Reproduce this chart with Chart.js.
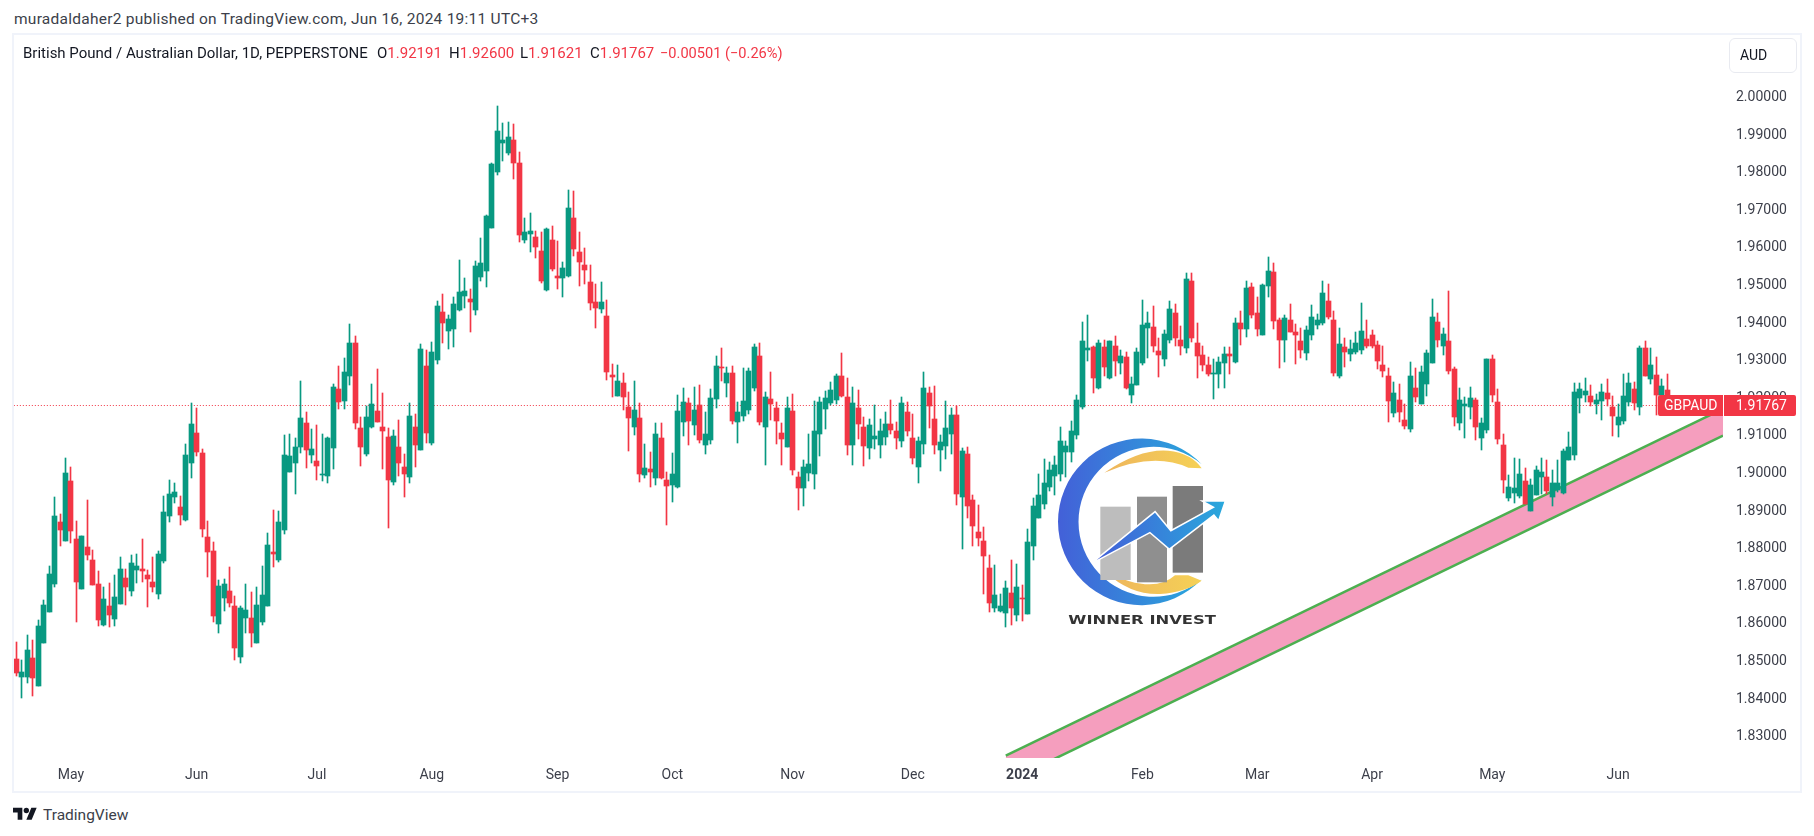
<!DOCTYPE html>
<html>
<head>
<meta charset="utf-8">
<title>GBPAUD</title>
<script src="https://cdn.jsdelivr.net/npm/chart.js@4"></script>
<style>
    html, body { margin: 0; padding: 0; background: #fff; }
    body { width: 1814px; height: 836px; position: relative; overflow: hidden; font-family: Roboto, sans-serif; color: #131722; }
    .abs { position: absolute; white-space: nowrap; }
    #frame { left: 12px; top: 33px; width: 1786px; height: 756px; border: 2px solid #f0f3fa; }
    #chartWrap { left: 14px; top: 35px; width: 1786px; height: 756px; }
    #published { left: 14px; top: 10px; font-size: 15.5px; letter-spacing: 0.25px; line-height: 18px; color: #3c3f4a; }
    .legend { top: 44px; font-size: 15px; line-height: 18px; color: #131722; }
    .red { color: #f23645; }
    #unit { left: 1729px; top: 38px; width: 66px; height: 33px; border: 1px solid #e8eaf0; border-radius: 6px; font-size: 14px; line-height: 33px; text-indent: 10px; }
    #logo { left: 1040px; top: 420px; }
    #tvLogo { left: 13px; top: 803px; }
    #tvText { left: 43px; top: 805px; font-size: 15.5px; line-height: 20px; color: #3c3f4a; }
</style>
</head>
<body>
<div class="abs" id="frame"></div>
<div class="abs" id="chartWrap"><canvas id="priceChart" width="1786" height="756"></canvas></div>

<div class="abs" id="published">muradaldaher2 published on TradingView.com, Jun 16, 2024 19:11 UTC+3</div>
<div class="abs legend" style="left:23px">British Pound / Australian Dollar, 1D, PEPPERSTONE</div>
<div class="abs legend" style="left:377px">O<span class="red">1.92191</span></div>
<div class="abs legend" style="left:449px">H<span class="red">1.92600</span></div>
<div class="abs legend" style="left:520px">L<span class="red">1.91621</span></div>
<div class="abs legend" style="left:590px">C<span class="red">1.91767</span></div>
<div class="abs legend red" style="left:660px;font-size:14.6px">−0.00501 (−0.26%)</div>
<div class="abs" id="unit">AUD</div>

<!-- Winner Invest logo -->
<svg class="abs" id="logo" width="220" height="220" viewBox="0 0 660 660">
    <defs>
        <linearGradient id="blue" x1="0" y1="0" x2="1" y2="0">
            <stop offset="0" stop-color="#4360d8"/>
            <stop offset="1" stop-color="#29a8dc"/>
        </linearGradient>
        <linearGradient id="gold" x1="0" y1="0" x2="1" y2="0">
            <stop offset="0" stop-color="#eeb55c"/>
            <stop offset="1" stop-color="#f5d156"/>
        </linearGradient>
    </defs>
    <path fill="url(#blue)" d="M485,133 A250,250 0 1 0 485,478 A225,225 0 1 1 485,133 Z"/>
    <path fill="url(#gold)" d="M193,158 Q300,85 385,92 Q455,100 485,145 L445,143 Q340,95 193,158 Z"/>
    <path fill="url(#gold)" d="M196,455 Q270,525 360,522 Q440,516 485,482 L445,466 L405,466 Q340,525 196,455 Z"/>
    <rect x="181" y="260" width="91" height="220" fill="#bdbdbd"/>
    <rect x="291" y="230" width="90" height="257" fill="#8f8f8f"/>
    <rect x="398" y="198" width="91" height="260" fill="#7b7b7b"/>
    <path fill="url(#blue)" stroke="#fff" stroke-width="9" paint-order="stroke" d="M170,420 L345,278 L392,335 L525,262 L495,245 L553,245 L535,298 L522,282 L388,385 L330,335 Z"/>
    <text x="85" y="612" font-family="DejaVu Sans" font-weight="bold" font-size="37" fill="#333" textLength="443" lengthAdjust="spacingAndGlyphs">WINNER INVEST</text>
</svg>

<!-- TradingView mark -->
<svg class="abs" id="tvLogo" width="24" height="19" viewBox="0 0 36 28"><path fill="#131722" d="M14 25H7V14H0V7h14v18zM28 25h-8l7.5-18h8L28 25z"/><circle fill="#131722" cx="20" cy="11" r="4"/></svg>
<div class="abs" id="tvText">TradingView</div>

<script>
    const opens = [
        1.8503,1.8455,1.8455,1.8505,1.8431,1.8545,1.8628,1.8702,1.8867,1.8817,
        1.8976,1.8822,1.8689,1.8801,1.8766,1.8702,1.8593,1.8644,1.8609,1.8649,
        1.8718,1.8684,1.8739,1.8742,1.8726,1.8708,1.8676,1.8763,1.8883,1.8934,
        1.8907,1.8872,1.9024,1.9104,1.9051,1.8827,1.8790,1.8596,1.8665,1.8684,
        1.8644,1.8508,1.8612,1.8612,1.8545,1.8601,1.8644,1.8787,1.8766,1.8846,
        1.9000,1.9024,1.9067,1.9130,1.9045,1.9029,1.8992,1.8989,1.9064,1.9221,
        1.9189,1.9255,1.9343,1.9117,1.9048,1.9120,1.9162,1.9120,1.9093,1.8974,
        1.9067,1.9013,1.8987,1.9120,1.9059,1.9282,1.9077,1.9298,1.9426,1.9375,
        1.9380,1.9431,1.9468,1.9460,1.9431,1.9519,1.9535,1.9649,1.9798,1.9875,
        1.9849,1.9883,1.9822,1.9617,1.9633,1.9625,1.9588,1.9484,1.9617,1.9521,
        1.9516,1.9521,1.9676,1.9585,1.9551,1.9505,1.9452,1.9434,1.9415,1.9258,
        1.9202,1.9237,1.9173,1.9120,1.9144,1.8992,1.9008,1.8984,1.9091,1.8979,
        1.8966,1.8960,1.9133,1.9184,1.9125,1.9177,1.9072,1.9085,1.9194,1.9279,
        1.9237,1.9263,1.9133,1.9149,1.9165,1.9224,1.9309,1.9120,1.9194,1.9170,
        1.9104,1.9067,1.9162,1.8987,1.8958,1.8997,1.8995,1.9101,1.9168,1.9184,
        1.9192,1.9255,1.9200,1.9072,1.9170,1.9120,1.9064,1.9088,1.9072,1.9093,
        1.9128,1.9109,1.9082,1.9160,1.9090,1.9013,1.9074,1.9210,1.9141,1.9059,
        1.9069,1.9101,1.9152,1.8934,1.9048,1.8926,1.8840,1.8817,1.8745,1.8638,
        1.8630,1.8625,1.8678,1.8620,1.8665,1.8622,1.8803,1.8878,1.8915,1.8960,
        1.8989,1.8995,1.9053,1.9053,1.9098,1.9173,1.9324,1.9332,1.9223,1.9332,
        1.9250,1.9335,1.9290,1.9306,1.9205,1.9231,1.9290,1.9383,1.9386,1.9322,
        1.9301,1.9351,1.9423,1.9351,1.9330,1.9508,1.9343,1.9311,1.9285,1.9261,
        1.9261,1.9290,1.9314,1.9293,1.9396,1.9380,1.9492,1.9423,1.9364,1.9495,
        1.9532,1.9404,1.9351,1.9404,1.9372,1.9348,1.9317,1.9364,1.9391,1.9396,
        1.9455,1.9404,1.9255,1.9332,1.9314,1.9319,1.9324,1.9354,1.9364,1.9338,
        1.9285,1.9255,1.9157,1.9192,1.9138,1.9114,1.9223,1.9181,1.9234,1.9290,
        1.9399,1.9335,1.9348,1.9274,1.9130,1.9176,1.9173,1.9192,1.9090,1.9112,
        1.9301,1.9186,1.9072,1.8931,1.8944,1.8936,1.8976,1.8896,1.8939,1.8987,
        1.8987,1.8934,1.8952,1.8944,1.9032,1.9045,1.9197,1.9205,1.9202,1.9181,
        1.9189,1.9210,1.9173,1.9125,1.9136,1.9186,1.9221,1.9173,1.9330,1.9247,
        1.9258,1.9205,1.92191
    ];
    const highs = [
        1.8548,1.8500,1.8567,1.8553,1.8606,1.8660,1.8750,1.8934,1.8888,1.9037,
        1.9013,1.8870,1.8830,1.8926,1.8793,1.8737,1.8694,1.8705,1.8726,1.8774,
        1.8742,1.8779,1.8782,1.8822,1.8739,1.8774,1.8790,1.8936,1.8979,1.8971,
        1.8936,1.9075,1.9184,1.9170,1.9061,1.8870,1.8814,1.8713,1.8716,1.8747,
        1.8670,1.8644,1.8702,1.8681,1.8694,1.8750,1.8838,1.8899,1.8896,1.9098,
        1.9101,1.9090,1.9242,1.9160,1.9114,1.9125,1.9101,1.9093,1.9234,1.9282,
        1.9303,1.9394,1.9362,1.9146,1.9176,1.9234,1.9274,1.9210,1.9117,1.9112,
        1.9138,1.9048,1.9184,1.9154,1.9341,1.9325,1.9346,1.9455,1.9474,1.9418,
        1.9466,1.9564,1.9516,1.9487,1.9561,1.9622,1.9684,1.9822,1.9973,1.9928,
        1.9931,1.9926,1.9851,1.9676,1.9689,1.9641,1.9638,1.9649,1.9654,1.9614,
        1.9559,1.9750,1.9747,1.9638,1.9596,1.9551,1.9500,1.9505,1.9457,1.9287,
        1.9285,1.9263,1.9213,1.9242,1.9184,1.9075,1.9053,1.9130,1.9130,1.9000,
        1.9051,1.9205,1.9224,1.9197,1.9226,1.9231,1.9160,1.9221,1.9309,1.9330,
        1.9279,1.9282,1.9186,1.9277,1.9277,1.9341,1.9343,1.9213,1.9266,1.9186,
        1.9130,1.9200,1.9208,1.9000,1.9032,1.9101,1.9189,1.9200,1.9216,1.9239,
        1.9261,1.9317,1.9250,1.9226,1.9218,1.9146,1.9141,1.9178,1.9141,1.9160,
        1.9192,1.9133,1.9199,1.9186,1.9154,1.9093,1.9266,1.9226,1.9229,1.9098,
        1.9189,1.9170,1.9176,1.9064,1.9067,1.8939,1.8912,1.8854,1.8779,1.8753,
        1.8676,1.8710,1.8766,1.8755,1.8699,1.8848,1.8931,1.8995,1.9035,1.9027,
        1.9043,1.9120,1.9082,1.9136,1.9205,1.9399,1.9418,1.9335,1.9351,1.9351,
        1.9348,1.9362,1.9324,1.9319,1.9253,1.9330,1.9457,1.9426,1.9441,1.9356,
        1.9378,1.9455,1.9447,1.9388,1.9529,1.9529,1.9396,1.9335,1.9306,1.9301,
        1.9306,1.9332,1.9332,1.9410,1.9428,1.9508,1.9503,1.9465,1.9500,1.9572,
        1.9556,1.9410,1.9418,1.9447,1.9394,1.9383,1.9388,1.9444,1.9420,1.9508,
        1.9500,1.9428,1.9383,1.9356,1.9351,1.9372,1.9449,1.9404,1.9378,1.9348,
        1.9335,1.9277,1.9239,1.9234,1.9181,1.9293,1.9277,1.9282,1.9324,1.9460,
        1.9423,1.9383,1.9481,1.9279,1.9223,1.9200,1.9226,1.9197,1.9144,1.9301,
        1.9311,1.9221,1.9101,1.8992,1.9037,1.9035,1.9011,1.8981,1.9016,1.9037,
        1.9032,1.9005,1.9032,1.9061,1.9106,1.9237,1.9237,1.9250,1.9231,1.9208,
        1.9234,1.9247,1.9202,1.9181,1.9261,1.9263,1.9239,1.9335,1.9349,1.9330,
        1.9306,1.9247,1.92600
    ];
    const lows = [
        1.8458,1.8399,1.8439,1.8404,1.8431,1.8545,1.8628,1.8694,1.8803,1.8817,
        1.8811,1.8601,1.8689,1.8766,1.8700,1.8591,1.8591,1.8588,1.8591,1.8649,
        1.8646,1.8670,1.8705,1.8708,1.8641,1.8681,1.8662,1.8758,1.8867,1.8918,
        1.8859,1.8870,1.8984,1.9043,1.8827,1.8721,1.8601,1.8572,1.8630,1.8641,
        1.8500,1.8492,1.8572,1.8535,1.8545,1.8593,1.8644,1.8747,1.8761,1.8835,
        1.9000,1.8942,1.9051,1.9011,1.9024,1.8979,1.8976,1.8971,1.9008,1.9168,
        1.9168,1.9231,1.9114,1.9016,1.9043,1.9117,1.9133,1.9008,1.8851,1.8966,
        1.8989,1.8934,1.8971,1.9013,1.9059,1.9077,1.9072,1.9287,1.9343,1.9327,
        1.9333,1.9428,1.9436,1.9372,1.9418,1.9508,1.9492,1.9649,1.9790,1.9827,
        1.9843,1.9779,1.9612,1.9609,1.9585,1.9569,1.9503,1.9481,1.9535,1.9487,
        1.9466,1.9519,1.9575,1.9495,1.9500,1.9431,1.9383,1.9423,1.9245,1.9200,
        1.9202,1.9165,1.9056,1.9099,1.8974,1.8984,1.8960,1.8966,1.8981,1.8859,
        1.8920,1.8958,1.9096,1.9072,1.9099,1.9077,1.9048,1.9075,1.9170,1.9242,
        1.9200,1.9128,1.9077,1.9136,1.9154,1.9216,1.9125,1.9019,1.9138,1.9075,
        1.9019,1.9067,1.8992,1.8899,1.8910,1.8976,1.8955,1.9043,1.9114,1.9178,
        1.9181,1.9200,1.9045,1.9019,1.9088,1.9016,1.9035,1.9061,1.9037,1.9072,
        1.9101,1.9061,1.9067,1.9096,1.9021,1.8971,1.9048,1.9117,1.9048,1.9003,
        1.9035,1.9048,1.8912,1.8795,1.8878,1.8803,1.8803,1.8676,1.8628,1.8628,
        1.8628,1.8588,1.8593,1.8604,1.8604,1.8622,1.8766,1.8878,1.8902,1.8949,
        1.8939,1.8976,1.8987,1.9027,1.9088,1.9168,1.9295,1.9210,1.9221,1.9255,
        1.9247,1.9255,1.9261,1.9221,1.9184,1.9231,1.9285,1.9303,1.9319,1.9253,
        1.9282,1.9343,1.9335,1.9311,1.9316,1.9346,1.9250,1.9269,1.9255,1.9194,
        1.9223,1.9223,1.9261,1.9290,1.9338,1.9359,1.9410,1.9362,1.9364,1.9465,
        1.9380,1.9277,1.9293,1.9372,1.9287,1.9303,1.9298,1.9351,1.9380,1.9391,
        1.9407,1.9255,1.9250,1.9279,1.9295,1.9314,1.9314,1.9330,1.9330,1.9274,
        1.9253,1.9133,1.9146,1.9133,1.9114,1.9106,1.9186,1.9181,1.9202,1.9290,
        1.9332,1.9311,1.9261,1.9122,1.9112,1.9090,1.9141,1.9085,1.9059,1.9104,
        1.9186,1.9075,1.8944,1.8923,1.8918,1.8931,1.8915,1.8896,1.8939,1.8942,
        1.8942,1.8910,1.8947,1.8942,1.9032,1.9032,1.9157,1.9186,1.9176,1.9154,
        1.9138,1.9176,1.9096,1.9093,1.9128,1.9176,1.9165,1.9152,1.9255,1.9234,
        1.9152,1.9185,1.91621
    ];
    const closes = [
        1.8466,1.8468,1.8527,1.8452,1.8591,1.8646,1.8729,1.8883,1.8846,1.8997,
        1.8843,1.8708,1.8830,1.8779,1.8700,1.8606,1.8662,1.8620,1.8668,1.8742,
        1.8694,1.8758,1.8750,1.8737,1.8716,1.8694,1.8782,1.8894,1.8942,1.8947,
        1.8886,1.9045,1.9128,1.9053,1.8848,1.8787,1.8617,1.8697,1.8702,1.8652,
        1.8532,1.8638,1.8633,1.8572,1.8646,1.8673,1.8806,1.8782,1.8867,1.9045,
        1.9043,1.9067,1.9144,1.9059,1.9061,1.9016,1.8995,1.9091,1.9226,1.9186,
        1.9266,1.9343,1.9130,1.9067,1.9146,1.9181,1.9133,1.9109,1.8979,1.9096,
        1.9024,1.8995,1.9149,1.9072,1.9327,1.9104,1.9319,1.9442,1.9396,1.9407,
        1.9447,1.9479,1.9481,1.9452,1.9548,1.9556,1.9681,1.9819,1.9907,1.9883,
        1.9891,1.9822,1.9630,1.9638,1.9641,1.9599,1.9508,1.9646,1.9540,1.9516,
        1.9543,1.9702,1.9593,1.9559,1.9537,1.9450,1.9436,1.9452,1.9266,1.9253,
        1.9242,1.9200,1.9144,1.9165,1.8995,1.9011,1.9000,1.9101,1.8984,1.8963,
        1.8995,1.9162,1.9186,1.9136,1.9165,1.9085,1.9101,1.9197,1.9282,1.9277,
        1.9263,1.9136,1.9160,1.9189,1.9269,1.9333,1.9133,1.9200,1.9181,1.9136,
        1.9088,1.9170,1.9005,1.8958,1.9013,1.9021,1.9109,1.9186,1.9197,1.9218,
        1.9255,1.9202,1.9072,1.9184,1.9128,1.9069,1.9125,1.9096,1.9109,1.9128,
        1.9112,1.9091,1.9184,1.9109,1.9037,1.9082,1.9223,1.9176,1.9072,1.9080,
        1.9117,1.9152,1.8942,1.9056,1.8910,1.8856,1.8824,1.8777,1.8652,1.8673,
        1.8644,1.8692,1.8638,1.8694,1.8662,1.8814,1.8910,1.8939,1.8971,1.9005,
        1.9019,1.9082,1.9069,1.9109,1.9191,1.9348,1.9330,1.9250,1.9343,1.9279,
        1.9348,1.9295,1.9309,1.9223,1.9234,1.9319,1.9391,1.9396,1.9335,1.9311,
        1.9367,1.9434,1.9356,1.9335,1.9513,1.9356,1.9309,1.9285,1.9261,1.9263,
        1.9293,1.9314,1.9309,1.9396,1.9380,1.9489,1.9418,1.9380,1.9497,1.9535,
        1.9402,1.9351,1.9410,1.9372,1.9364,1.9324,1.9378,1.9412,1.9404,1.9476,
        1.9412,1.9263,1.9340,1.9319,1.9327,1.9343,1.9375,1.9335,1.9335,1.9295,
        1.9269,1.9189,1.9210,1.9160,1.9122,1.9255,1.9200,1.9266,1.9317,1.9412,
        1.9351,1.9367,1.9269,1.9146,1.9192,1.9181,1.9197,1.9120,1.9130,1.9301,
        1.9205,1.9088,1.8979,1.8960,1.8958,1.8995,1.8915,1.8966,1.9005,1.9000,
        1.8950,1.8971,1.8971,1.9056,1.9067,1.9213,1.9221,1.9216,1.9186,1.9192,
        1.9213,1.9194,1.9149,1.9146,1.9202,1.9237,1.9184,1.9330,1.9255,1.9285,
        1.9205,1.9229,1.91767
    ];

    // Axis labels
    const monthLabels = ['May', 'Jun', 'Jul', 'Aug', 'Sep', 'Oct', 'Nov', 'Dec', '2024', 'Feb', 'Mar', 'Apr', 'May', 'Jun'];
    const monthBars = [10, 33, 55, 76, 99, 120, 142, 164, 184, 206, 227, 248, 270, 293];
    const priceTicks = [1.83, 1.84, 1.85, 1.86, 1.87, 1.88, 1.89, 1.90, 1.91, 1.92, 1.93, 1.94, 1.95, 1.96, 1.97, 1.98, 1.99, 2.00];

    // Rising channel drawn on the chart
    const channelBars = [181, 312.2];
    const channelUpper = [1.82457, 1.91681];
    const channelLower = [1.81745, 1.90965];

    const symbolName = 'GBPAUD';
    const lastClose = closes[closes.length - 1];

    // Colors
    const upColor = '#089981';
    const downColor = '#f23645';
    const channelLine = '#4caf50';
    const channelFill = '#f59ebe';
    const tickColor = '#3c3f4a';

    const candleColors = opens.map(function (o, i) {
        return closes[i] >= o ? upColor : downColor;
    });

    // Snap bars and the last price line to whole pixels so they stay crisp
    const snapMarks = {
        id: 'snapMarks',
        afterDatasetsUpdate: function (chart) {
            chart.data.datasets.forEach(function (ds, i) {
                const meta = chart.getDatasetMeta(i);
                if (ds.type === 'bar') {
                    meta.data.forEach(function (bar) {
                        bar.x = Math.round(bar.x - 0.5) + 0.5;
                        bar.y = Math.round(bar.y);
                        bar.base = Math.round(bar.base);
                        if (bar.base === bar.y) bar.base = bar.y + 1;
                    });
                } else if (ds.borderDash) {
                    meta.data.forEach(function (pt) {
                        pt.y = Math.floor(pt.y) + 0.5;
                    });
                }
            });
        }
    };

    // Red symbol and price tag at the last close
    const priceTag = {
        id: 'priceTag',
        afterDatasetsDraw: function (chart) {
            const ctx = chart.ctx;
            const right = chart.scales.x.right;
            const y = Math.round(chart.scales.y.getPixelForValue(lastClose));
            ctx.save();
            ctx.fillStyle = downColor;
            ctx.beginPath();
            ctx.roundRect(right - 65, y - 11, 65, 21, [2, 0, 0, 2]);
            ctx.roundRect(right + 1, y - 11, 72, 21, [0, 2, 2, 0]);
            ctx.fill();
            ctx.fillStyle = '#fff';
            ctx.font = '14px Roboto';
            ctx.textBaseline = 'middle';
            ctx.textAlign = 'left';
            ctx.fillText(symbolName, right - 59, y);
            ctx.fillText(lastClose.toFixed(5), right + 13, y);
            ctx.restore();
        }
    };

    new Chart(document.getElementById('priceChart'), {
        type: 'bar',
        data: {
            datasets: [
                {
                    type: 'line',
                    data: channelBars.map(function (b, i) { return { x: b, y: channelUpper[i] }; }),
                    borderColor: channelLine,
                    borderWidth: 2.5,
                    pointRadius: 0,
                    fill: '+1',
                    backgroundColor: channelFill,
                    order: 6
                },
                {
                    type: 'line',
                    data: channelBars.map(function (b, i) { return { x: b, y: channelLower[i] }; }),
                    borderColor: channelLine,
                    borderWidth: 2.5,
                    pointRadius: 0,
                    fill: false,
                    order: 5
                },
                {
                    type: 'line',
                    data: [{ x: -1, y: lastClose }, { x: 313, y: lastClose }],
                    borderColor: downColor,
                    borderWidth: 1,
                    borderDash: [1, 2],
                    pointRadius: 0,
                    fill: false,
                    order: 4
                },
                {
                    type: 'bar',
                    data: lows.map(function (l, i) { return { x: i, y: [l, highs[i]] }; }),
                    backgroundColor: candleColors,
                    barThickness: 1,
                    grouped: false,
                    order: 3
                },
                {
                    type: 'bar',
                    data: opens.map(function (o, i) { return { x: i, y: [o, closes[i]] }; }),
                    backgroundColor: candleColors,
                    barThickness: 5,
                    grouped: false,
                    order: 2
                }
            ]
        },
        options: {
            responsive: false,
            animation: false,
            devicePixelRatio: 1,
            layout: { padding: 0 },
            plugins: {
                legend: { display: false },
                tooltip: { enabled: false }
            },
            scales: {
                x: {
                    type: 'linear',
                    offset: false,
                    min: -0.42,
                    max: 312.2,
                    grid: { display: false, drawTicks: false },
                    border: { display: false },
                    afterBuildTicks: function (scale) {
                        scale.ticks = monthBars.map(function (v) { return { value: v }; });
                    },
                    afterFit: function (scale) {
                        scale.height = 33;
                        scale.paddingLeft = 0;
                        scale.paddingRight = 0;
                    },
                    ticks: {
                        autoSkip: false,
                        maxRotation: 0,
                        padding: 9,
                        color: tickColor,
                        font: function (ctx) {
                            return ctx.tick && ctx.tick.value === 184
                                ? { family: 'Roboto', size: 14, weight: 'bold' }
                                : { family: 'Roboto', size: 14 };
                        },
                        callback: function (value) {
                            return monthLabels[monthBars.indexOf(value)];
                        }
                    }
                },
                y: {
                    position: 'right',
                    min: 1.82394,
                    max: 2.01622,
                    grid: { display: false, drawTicks: false },
                    border: { display: false },
                    afterBuildTicks: function (scale) {
                        scale.ticks = priceTicks.map(function (v) { return { value: v }; });
                    },
                    afterFit: function (scale) {
                        scale.width = 77;
                        scale.paddingTop = 0;
                        scale.paddingBottom = 0;
                    },
                    ticks: {
                        padding: 13,
                        labelOffset: 1.5,
                        color: tickColor,
                        font: { family: 'Roboto', size: 14 },
                        callback: function (value) {
                            return value.toFixed(5);
                        }
                    }
                }
            }
        },
        plugins: [snapMarks, priceTag]
    });
</script>
</body>
</html>
